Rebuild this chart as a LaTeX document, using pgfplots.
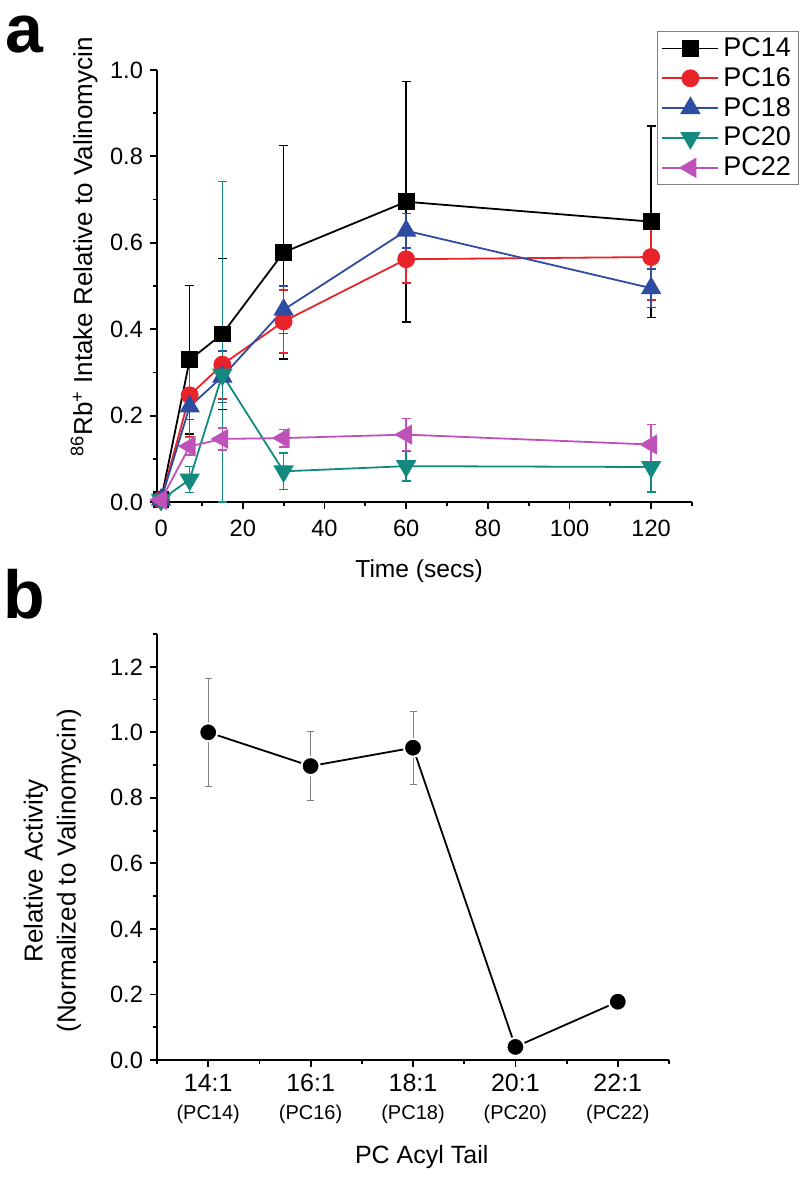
\documentclass[border=0pt]{standalone}
\usepackage{pgfplots}
\pgfplotsset{compat=1.18}
\usepackage{fontspec}
\setmainfont{Liberation Sans}
\definecolor{cred}{HTML}{E8232A}
\definecolor{cblue}{HTML}{2E4DA0}
\definecolor{cteal}{HTML}{138A80}
\definecolor{cpurple}{HTML}{BE52B8}
\begin{document}
\begin{tikzpicture}
\path[use as bounding box] (0,0) rectangle (400pt,-590.5pt);
\pgfplotsset{
  common/.style={
    scale only axis,
    axis x line*=bottom, axis y line*=left,
    axis line style={line width=1pt},
    tick align=outside,
    major tick length=3.5pt, minor tick length=2.2pt,
    every tick/.style={line width=0.9pt, black},
    tick label style={font=\fontsize{11.8}{13}\selectfont},
    /pgf/number format/assume math mode=true,
    yticklabel style={/pgf/number format/.cd, fixed, fixed zerofill, precision=1},
    clip=false,
  },
  ebar/.style={error bars/.cd, y dir=both, y explicit, error bar style={line width=0.8pt, solid},
    error mark options={rotate=90, mark size=2.2pt, line width=0.8pt}},
}
\node[anchor=base west, inner sep=0pt, font=\fontsize{34}{36}\selectfont\bfseries] at (2.5pt,-26.5pt) {a};
\node[anchor=base west, inner sep=0pt, font=\fontsize{34}{36}\selectfont\bfseries] at (1.5pt,-309pt) {b};

\begin{axis}[common,
  at={(78.5pt,-251pt)}, anchor=south west, width=267.5pt, height=216pt,
  xmin=-1, xmax=130, ymin=0, ymax=1,
  xtick={0,20,40,60,80,100,120}, minor xtick={10,30,50,70,90,110,130},
  ytick={0,0.2,0.4,0.6,0.8,1.0}, minor ytick={0.1,0.3,0.5,0.7,0.9},
  xticklabel style={yshift=-2pt},
  xlabel={Time (secs)},
  xlabel style={at={(axis description cs:0.49,0)}, anchor=center, yshift=-34.5pt, font=\fontsize{12.3}{14}\selectfont},
  ylabel={\textsuperscript{86}Rb\textsuperscript{+} Intake Relative to Valinomycin},
  ylabel style={at={([xshift=-36.5pt]axis description cs:0,0.59)}, anchor=center, font=\fontsize{13}{15}\selectfont},
  legend entries={PC14,PC16,PC18,PC20,PC22},
  legend cell align=left,
  legend style={at={(0.9346,1.0903)}, anchor=north west, draw=gray, line width=0.5pt,
    font=\fontsize{13.5}{15.6}\selectfont, inner xsep=2pt, inner ysep=1pt,
    /tikz/every even column/.append style={column sep=1pt}},
  legend image code/.code={\draw[mark repeat=2,mark phase=2,#1] plot coordinates {(0pt,0pt)(14pt,0pt)(28pt,0pt)};},
  every axis plot/.append style={line width=0.9pt},
]
\addplot[black, mark=square*, mark size=3.75pt, mark options={solid}, ebar]
  coordinates {(0,0.005) +- (0,0) (7,0.329) +- (0,0.172) (15,0.389) +- (0,0.175) (30,0.578) +- (0,0.247) (60,0.695) +- (0,0.278) (120,0.649) +- (0,0.222)};
\addplot[cred, mark=*, mark size=4pt, mark options={solid}, ebar]
  coordinates {(0,0.005) +- (0,0) (7,0.247) +- (0,0.095) (15,0.318) +- (0,0.08) (30,0.418) +- (0,0.073) (60,0.562) +- (0,0.055) (120,0.567) +- (0,0.1)};
\addplot[cblue, mark=triangle*, mark size=5pt, mark options={solid}, ebar]
  coordinates {(0,0.005) +- (0,0) (7,0.221) +- (0,0.03) (15,0.29) +- (0,0.06) (30,0.445) +- (0,0.055) (60,0.628) +- (0,0.04) (120,0.495) +- (0,0.045)};
\addplot[cteal, mark=triangle*, mark size=5pt, mark options={solid, rotate=180}, ebar]
  coordinates {(0,0.005) +- (0,0) (7,0.052) +- (0,0.03) (15,0.295) += (0,0.447) -= (0,0.295) (30,0.071) +- (0,0.042) (60,0.083) +- (0,0.035) (120,0.081) +- (0,0.058)};
\addplot[cpurple, mark=triangle*, mark size=5pt, mark options={solid, rotate=90}, ebar]
  coordinates {(0,0.005) +- (0,0) (7,0.129) +- (0,0.02) (15,0.146) +- (0,0.025) (30,0.148) +- (0,0.02) (60,0.156) +- (0,0.037) (120,0.133) +- (0,0.046)};
\end{axis}

\begin{axis}[common,
  at={(78.5pt,-530pt)}, anchor=south west, width=256pt, height=213pt,
  xmin=-0.5, xmax=4.5, ymin=0, ymax=1.3,
  xtick={0,1,2,3,4}, minor xtick={-0.5,0.5,1.5,2.5,3.5,4.5},
  ytick={0,0.2,0.4,0.6,0.8,1.0,1.2}, minor ytick={0.1,0.3,0.5,0.7,0.9,1.1,1.3},
  xticklabels={{14:1\\[-1pt]{\fontsize{10}{12}\selectfont(PC14)}},{16:1\\[-1pt]{\fontsize{10}{12}\selectfont(PC16)}},{18:1\\[-1pt]{\fontsize{10}{12}\selectfont(PC18)}},{20:1\\[-1pt]{\fontsize{10}{12}\selectfont(PC20)}},{22:1\\[-1pt]{\fontsize{10}{12}\selectfont(PC22)}}},
  xticklabel style={align=center, font=\fontsize{12.5}{15}\selectfont},
  xlabel={PC Acyl Tail},
  xlabel style={at={(axis description cs:0.517,0)}, anchor=center, yshift=-48.5pt, font=\fontsize{12.5}{14}\selectfont},
  ylabel={Relative Activity\\(Normalized to Valinomycin)},
  ylabel style={at={([xshift=-52.25pt]axis description cs:0,0.444)}, anchor=center, align=center, font=\fontsize{13}{16.5}\selectfont},
]
\addplot[black, line width=0.9pt, mark=*, mark size=4.5pt, mark options={fill=black, draw=white, line width=1pt},
  error bars/.cd, y dir=both, y explicit, error bar style={gray, line width=0.5pt}, error mark options={rotate=90, gray, mark size=1.75pt, line width=0.5pt}]
  coordinates {(0,1.0) +- (0,0.165) (1,0.897) +- (0,0.105) (2,0.953) +- (0,0.112) (3,0.04) +- (0,0.01) (4,0.178) +- (0,0.02)};
\end{axis}
\end{tikzpicture}
\end{document}
